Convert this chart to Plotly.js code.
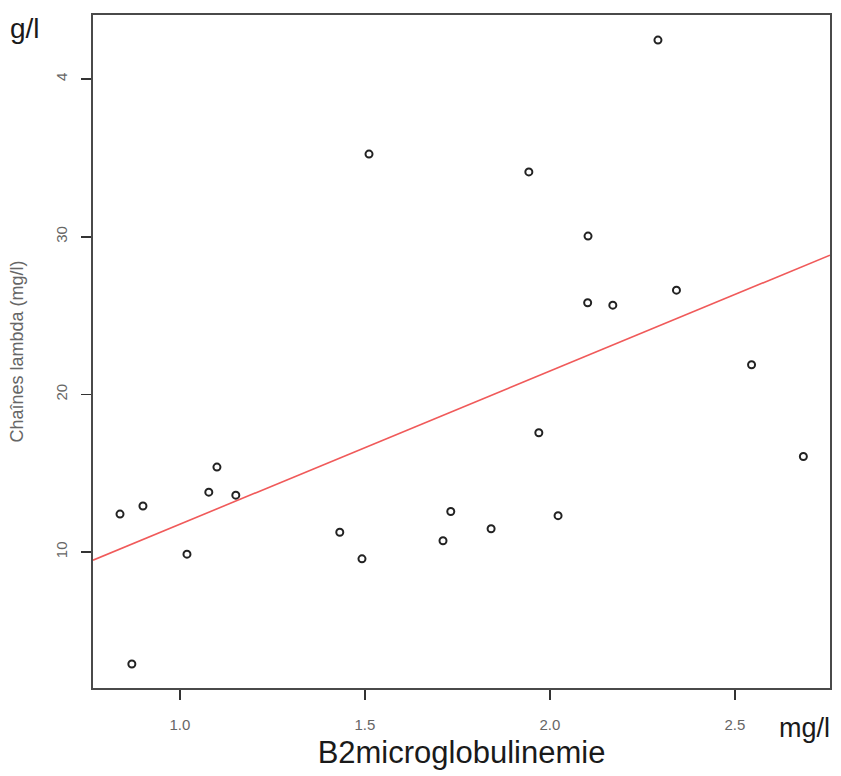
<!DOCTYPE html>
<html>
<head>
<meta charset="utf-8">
<script src="https://cdn.plot.ly/plotly-3.0.1.min.js"></script>
<style>html,body{margin:0;padding:0;background:#fff;}#chart{width:841px;height:776px;}</style>
</head>
<body>
<div id="chart"></div>
<script>
// Data
const b2micro = [0.838, 0.900, 0.870, 1.019, 1.078, 1.100, 1.151, 1.432, 1.492, 1.511, 1.711, 1.732, 1.841, 1.943, 1.970, 2.022, 2.103, 2.102, 2.170, 2.292, 2.342, 2.545, 2.685];
const lambda = [12.41, 12.92, 2.90, 9.87, 13.80, 15.39, 13.61, 11.26, 9.57, 35.24, 10.72, 12.57, 11.48, 34.11, 17.57, 12.31, 30.04, 25.81, 25.66, 42.47, 26.61, 21.88, 16.06];
const fitIntercept = 2.06;
const fitSlope = 9.71;
const xTickVals = [1.0, 1.5, 2.0, 2.5];
const xTickText = ["1.0", "1.5", "2.0", "2.5"];
const yTickVals = [10, 20, 30, 40];
const yTickText = ["10", "20", "30", "4"];
const xRange = [0.765, 2.757];
const yRange = [1.38, 44.06];

const lineX = xRange.slice();
const lineY = lineX.map(v => fitIntercept + fitSlope * v);

const traces = [
  {
    x: lineX, y: lineY, type: 'scatter', mode: 'lines',
    line: {color: 'rgb(240,90,90)', width: 1.6},
    hoverinfo: 'skip', showlegend: false
  },
  {
    x: b2micro, y: lambda, type: 'scatter', mode: 'markers',
    marker: {symbol: 'circle-open', size: 7, color: '#222', line: {width: 2, color: '#222'}},
    showlegend: false
  }
];

const layout = {
  width: 841, height: 776,
  margin: {l: 93, r: 11, t: 15, b: 88},
  paper_bgcolor: '#fff', plot_bgcolor: '#fff',
  font: {family: 'Liberation Sans, Arial, sans-serif', color: '#555'},
  xaxis: {
    range: xRange, tickvals: xTickVals, ticktext: xTickText,
    showgrid: false, zeroline: false,
    showline: true, mirror: true, linecolor: '#4a4a4a', linewidth: 2,
    ticks: 'outside', ticklen: 10, tickwidth: 1.6, tickcolor: '#333',
    tickfont: {size: 15, color: '#666'}, ticklabelstandoff: 12,
    title: {text: 'B2microglobulinemie', font: {size: 31, color: '#1a1a1a'}, standoff: 9}
  },
  yaxis: {
    range: yRange, tickvals: yTickVals, ticktext: yTickText,
    showgrid: false, zeroline: false,
    showline: true, mirror: true, linecolor: '#4a4a4a', linewidth: 2,
    ticks: 'outside', ticklen: 10, tickwidth: 1.6, tickcolor: '#333',
    tickangle: -90,
    tickfont: {size: 15, color: '#666'}, ticklabelstandoff: 8,
    title: {text: 'Chaînes lambda (mg/l)', font: {size: 18, color: '#666'}, standoff: 25}
  },
  annotations: [
    {text: 'g/l', xref: 'paper', yref: 'paper', x: 0, y: 1, xanchor: 'left', yanchor: 'middle',
     xshift: -85, yshift: -13, showarrow: false, font: {size: 28, color: '#1a1a1a'}},
    {text: 'mg/l', xref: 'paper', yref: 'paper', x: 1, y: 0, xanchor: 'right', yanchor: 'middle',
     xshift: 2, yshift: -40, showarrow: false, font: {size: 27, color: '#1a1a1a'}}
  ]
};

Plotly.newPlot('chart', traces, layout, {displayModeBar: false, staticPlot: true});
</script>
</body>
</html>
